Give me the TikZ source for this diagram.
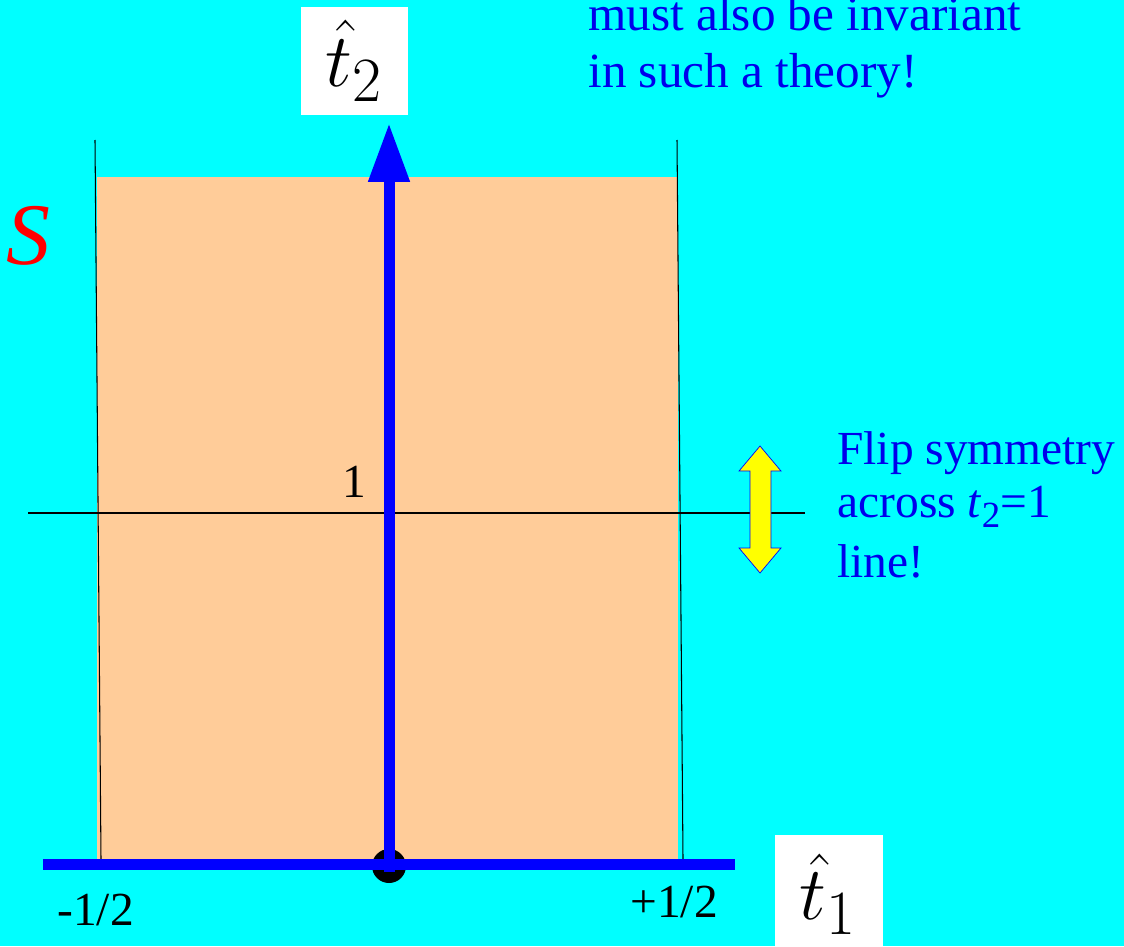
\documentclass[tikz,border=0pt]{standalone}
\usepackage{graphicx}
\usepackage[no-math]{fontspec}
\setmainfont{Liberation Serif}
\usetikzlibrary{arrows.meta}
\definecolor{SkyCyan}{RGB}{0,255,255}
\definecolor{Peach}{RGB}{255,204,153}
\definecolor{FlipYellow}{RGB}{255,255,0}
\definecolor{TextBlue}{RGB}{0,0,235}
\newcommand{\bighat}[1]{\scalebox{1.73}{\Huge$#1$}}
\tikzset{
  axis/.style={line width=0.22cm,draw=blue},
  axisarrow/.style={axis,-{Triangle[length=1.18cm,width=0.78cm]}},
  thinline/.style={line width=0.6pt,draw=black},
  note/.style={font=\fontsize{27}{33}\selectfont,text=TextBlue,align=left,inner sep=0pt},
  ticklabel/.style={font=\fontsize{27}{33}\selectfont,inner sep=0pt},
  hatlabel/.style={fill=white,inner sep=0pt,minimum width=2.16cm},
  flipmark/.style={fill=FlipYellow,draw=blue,line width=0.4pt}
}

\begin{document}
\begin{tikzpicture}[x=0.02cm,y=-0.02cm]
  \useasboundingbox (0,0) rectangle (1124,946);
  \clip (0,0) rectangle (1124,946);
  \fill[SkyCyan] (0,0) rectangle (1124,946);
  % strip
  \fill[Peach] (97,177) rectangle (678,859);
  \coordinate (o) at (389,866);
  \coordinate (ltop) at (95,140);
  \coordinate (lbot) at (101,859);
  \coordinate (rtop) at (677,140);
  \coordinate (rbot) at (683,859);
  \coordinate (hl) at (28,513);
  \coordinate (hr) at (805,513);
  \draw[thinline] (ltop) -- (lbot);
  \draw[thinline] (rtop) -- (rbot);
  \draw[thinline] (hl) -- (hr);
  % axes
  \coordinate (ybot) at (389,872);
  \coordinate (ytip) at (389,123);
  \coordinate (xl) at (43,864);
  \coordinate (xr) at (735,864);
  \fill[black] (o) circle[radius=0.34cm];
  \draw[axisarrow] (ybot) -- (ytip);
  \draw[axis] (xl) -- (xr);
  % labels
  \node[hatlabel,minimum height=2.16cm] (t2lab) at (354.5,61) {\bighat{\hat t_2}};
  \node[hatlabel,minimum height=2.36cm] (t1lab) at (828.5,894) {\bighat{\hat t_1}};
  \node[ticklabel,anchor=base] (one) at (354,497) {1};
  \node[ticklabel,anchor=base west] (lefthalf) at (57,925) {-1/2};
  \node[ticklabel,anchor=base west] (righthalf) at (630,917) {+1/2};
  \node[inner sep=0pt,text=red,font=\fontsize{50}{50}\selectfont\itshape] (sym) at (28,236) {S};
  \node[note,font=\fontsize{28}{33}\selectfont,anchor=base west] (theory) at (588,88)
    {must also be invariant\\in such a theory!};
  \node[note,anchor=base west] (flip) at (837,577)
    {Flip symmetry\\[-3pt]across \textit{t}\raisebox{-0.22em}{\fontsize{21}{21}\selectfont 2}=1\\[1pt]line!};
  % flip arrow
  \draw[flipmark] (760,446) -- (781,471) -- (771,471) -- (771,548) -- (781,548)
    -- (760,573) -- (739,548) -- (750,548) -- (750,471) -- (739,471) -- cycle;
\end{tikzpicture}
\end{document}
